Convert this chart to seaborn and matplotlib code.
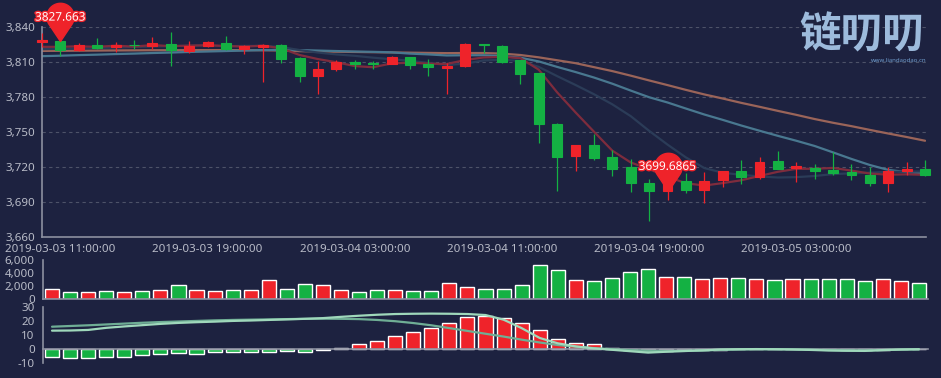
import numpy as np
import pandas as pd
import matplotlib
matplotlib.use('Agg')
import matplotlib.pyplot as plt
import matplotlib.path as mpath
import matplotlib.patheffects as pe
from matplotlib.markers import MarkerStyle
from matplotlib.ticker import FuncFormatter
import seaborn as sns

# hourly candles, 2019-03-03 10:00 .. 2019-03-05 10:00
opens = [3827.5, 3827.66, 3820, 3825, 3822.5, 3825, 3824, 3825.7, 3819.7, 3823.4,
         3826.3, 3821.1, 3822.9, 3824.8, 3813.4, 3797.7, 3804.3, 3810, 3809.1, 3808.6,
         3814, 3808.3, 3804.5, 3806.8, 3825.4, 3823.7, 3811.4, 3800.6, 3757.1, 3729.7,
         3738.5, 3728.2, 3719.6, 3706.6, 3699.69, 3707.6, 3700.6, 3708.6, 3716.9, 3711.4,
         3724.8, 3719.4, 3719.4, 3717.7, 3715.4, 3713.1, 3706.3, 3716.2, 3718.5]
closes = [3828.5, 3820, 3825, 3821.7, 3825, 3824.3, 3826.3, 3820.5, 3824, 3826.8,
          3821.1, 3823.4, 3824.8, 3812.8, 3797.7, 3804, 3809.7, 3808.3, 3808, 3814,
          3807.1, 3805.4, 3806.8, 3825.4, 3824.6, 3810, 3800, 3756.9, 3728.6, 3738.5,
          3727.7, 3718.4, 3706.3, 3699.4, 3706, 3700.5, 3708.3, 3716.9, 3711.4, 3724.5,
          3718.5, 3720.9, 3717, 3715.1, 3712.8, 3706, 3716.2, 3718.5, 3712.8]
highs = [3835, 3828, 3826.5, 3831, 3827, 3828.5, 3831.5, 3835.5, 3828.3, 3827.8,
         3832.5, 3824.5, 3825.5, 3825.2, 3814, 3811, 3812, 3812, 3810.5, 3815,
         3814.5, 3812.6, 3809, 3826, 3825.5, 3825, 3812, 3801, 3758, 3739,
         3748.5, 3735, 3727, 3710, 3712, 3715, 3716, 3717, 3726.3, 3728.6,
         3733.4, 3724.3, 3722.6, 3732.5, 3722.6, 3720, 3719.7, 3724, 3726.3]
lows = [3823, 3815, 3819.5, 3821, 3819, 3821, 3821, 3807, 3817.7, 3823,
        3820.5, 3816.5, 3793, 3809, 3793, 3783, 3802, 3804, 3804.3, 3808,
        3804.3, 3798.3, 3783, 3806, 3817.7, 3809, 3791, 3740.6, 3699.7, 3716.3,
        3726, 3712, 3698.6, 3673.4, 3691.6, 3697.7, 3689, 3702.5, 3705.4, 3709.7,
        3718, 3706.8, 3709.7, 3713.4, 3708.5, 3703.4, 3698.2, 3713.4, 3712.5]

ma5 = [3823, 3823, 3823.5, 3823, 3824.0, 3823.2, 3824.5, 3823.6, 3824.0, 3824.4,
       3823.7, 3823.2, 3824.0, 3821.8, 3816.0, 3812.5, 3809.8, 3806.5, 3805.5, 3808.8,
       3809.4, 3808.6, 3808.3, 3811.7, 3813.9, 3814.4, 3813.4, 3803.4, 3784.0, 3766.8,
       3750.3, 3734.0, 3723.9, 3718.1, 3711.6, 3706.1, 3704.1, 3706.2, 3708.6, 3712.3,
       3715.9, 3718.4, 3718.5, 3719.2, 3716.9, 3714.4, 3713.4, 3713.7, 3713.3]
ma10 = [3821.0, 3821.3, 3821.6, 3822.0, 3822.4, 3822.8, 3823.3, 3823.6, 3824.0, 3824.2,
        3823.5, 3823.8, 3823.8, 3822.9, 3820.2, 3818.1, 3816.5, 3815.3, 3813.7, 3812.4,
        3811.0, 3809.2, 3807.4, 3808.6, 3811.3, 3811.9, 3811.0, 3805.8, 3797.9, 3790.3,
        3782.4, 3773.7, 3763.6, 3751.0, 3739.2, 3728.2, 3719.1, 3715.1, 3713.3, 3711.9,
        3711.0, 3711.3, 3712.3, 3713.9, 3714.6, 3715.1, 3715.9, 3716.1, 3716.2]
ma20 = [3815.0, 3815.4, 3815.9, 3816.3, 3816.8, 3817.2, 3817.7, 3818.1, 3818.6, 3819.0,
        3819.4, 3819.8, 3820.2, 3820.4, 3820.2, 3819.8, 3819.4, 3819.0, 3818.7, 3818.3,
        3817.2, 3816.5, 3815.6, 3815.8, 3815.8, 3815.0, 3813.7, 3810.5, 3805.8, 3801.4,
        3796.7, 3791.4, 3785.5, 3779.8, 3775.3, 3770.1, 3765.0, 3760.4, 3755.6, 3751.1,
        3746.7, 3742.5, 3738.0, 3732.5, 3726.9, 3721.7, 3717.5, 3715.6, 3714.8]
ma30 = [3819.5, 3819.6, 3819.7, 3819.8, 3819.9, 3820.0, 3820.1, 3820.1, 3820.2, 3820.2,
        3820.2, 3820.2, 3820.1, 3819.8, 3819.3, 3819.0, 3818.8, 3818.6, 3818.4, 3818.2,
        3818.0, 3817.8, 3817.6, 3817.7, 3817.7, 3817.2, 3816.0, 3814.0, 3811.5, 3809.0,
        3805.6, 3802.2, 3798.3, 3794.2, 3790.2, 3786.1, 3782.2, 3778.7, 3775.0, 3771.6,
        3768.1, 3764.7, 3761.1, 3757.9, 3755.0, 3751.8, 3748.7, 3745.7, 3742.5]

volumes = [1540, 1130, 1150, 1230, 1030, 1280, 1440, 2200, 1440, 1280,
           1330, 1440, 2870, 1590, 2250, 2100, 1440, 1080, 1380, 1380,
           1180, 1230, 2410, 1900, 1590, 1490, 2100, 5230, 4510, 2870,
           2770, 3280, 4200, 4620, 3440, 3440, 3130, 3280, 3180, 3130,
           2920, 3080, 3080, 3080, 3030, 2770, 3030, 2820, 2510]

macd_hist = [-5.7, -6.4, -6.4, -5.5, -5.5, -4.3, -3.3, -2.6, -3.1, -2.1,
             -1.7, -2.1, -1.7, -1.4, -2.1, -0.4, 1.1, 3.5, 5.9, 9.2,
             12.1, 15.3, 18.6, 22.7, 23.6, 22.4, 18.9, 13.7, 7.3, 4.7,
             4.0, 1.1, -0.4, -0.9, -1.0, -0.8, -0.5, -0.2, 0.3, 0.5,
             0.4, 0.3, 0.1, -0.1, -0.2, -0.4, -0.3, -0.1, 0.1]
dif = [13.2, 13.3, 13.7, 15.2, 16.2, 17.1, 18.0, 18.7, 19.2, 19.6,
       20.1, 20.4, 20.8, 21.2, 21.6, 22.1, 23.0, 23.8, 24.5, 25.0,
       25.2, 25.3, 25.2, 25.0, 24.3, 21.0, 15.0, 8.0, 4.2, 2.0,
       0.6, -0.4, -1.4, -2.4, -1.8, -1.3, -0.8, -0.2, 0.0, 0.1,
       0.0, -0.2, -0.5, -0.9, -1.1, -1.2, -0.6, -0.2, 0.0]
dea = [16.0, 16.5, 17.0, 17.6, 18.2, 18.8, 19.3, 19.7, 20.1, 20.5,
       20.8, 21.0, 21.2, 21.4, 21.6, 21.7, 21.6, 21.4, 20.8, 19.9,
       18.6, 17.0, 15.0, 13.0, 11.0, 9.0, 6.8, 4.8, 3.0, 1.8,
       0.8, 0.0, -0.6, -1.2, -1.3, -1.2, -0.9, -0.5, -0.2, 0.0,
       0.0, -0.1, -0.3, -0.6, -0.8, -0.9, -0.6, -0.3, -0.1]

tick_pos = [1, 9, 17, 25, 33, 41]
tick_labels = ['2019-03-03 11:00:00', '2019-03-03 19:00:00', '2019-03-04 03:00:00',
               '2019-03-04 11:00:00', '2019-03-04 19:00:00', '2019-03-05 03:00:00']
macd_ticks = [-10, 0, 10, 20, 30]
macd_tick_labels = ['-10', '0', '10', '20', '30']

max_mark = (1, 3827.663)
min_mark = (34, 3699.6865)

# colours
BG = '#1d2240'
UP = '#ef232a'
DOWN = '#14b143'
AXIS = '#8c90a0'
TXT = '#b9bcc8'
GRID = '#4d5268'

sns.set_theme(style='dark', rc={'axes.facecolor': BG, 'figure.facecolor': BG})
plt.rcParams['font.family'] = ['Noto Sans', 'DejaVu Sans']

n = len(closes)
idx = list(range(n))
df = pd.DataFrame({'i': idx, 'open': opens, 'close': closes, 'high': highs, 'low': lows,
                   'vol': volumes, 'hist': macd_hist, 'dif': dif, 'dea': dea,
                   'MA5': ma5, 'MA10': ma10, 'MA20': ma20, 'MA30': ma30})
df['dir'] = np.where(df['close'] >= df['open'], 'up', 'down')
df['hdir'] = np.where(df['hist'] >= 0, 'up', 'down')

W, H = 941, 378
fig = plt.figure(figsize=(W / 100, H / 100), dpi=100)
ax = fig.add_axes([42 / W, (H - 237) / H, 884 / W, 210 / H])
axv = fig.add_axes([43 / W, (H - 299) / H, 885 / W, 39 / H])
axm = fig.add_axes([43 / W, (H - 363.3) / H, 885 / W, 56.3 / H])

# ---- main candlestick panel
ax.set_xlim(0, 48.05)
ax.set_ylim(3660, 3840)
for y in [3690, 3720, 3750, 3780, 3810, 3840]:
    ax.axhline(y, color=GRID, lw=0.8, ls=(0, (3, 3)), zorder=0)

ma_cols = {'MA5': '#7e2c3d', 'MA10': '#2b3c58', 'MA20': '#497890', 'MA30': '#9a6459'}
for name in ['MA30', 'MA20', 'MA10', 'MA5']:
    sns.lineplot(data=df, x='i', y=name, ax=ax, color=ma_cols[name], lw=1.6,
                 zorder=2, legend=False)

colors = [UP if d == 'up' else DOWN for d in df['dir']]
ax.vlines(df['i'], df['low'], df['high'], colors=colors, lw=0.9, zorder=3, clip_on=False)
bottoms = np.minimum(df['open'], df['close'])
heights = np.abs(df['close'] - df['open'])
ax.bar(df['i'], heights, bottom=bottoms, width=0.54, color=colors, edgecolor=colors,
       linewidth=0.8, zorder=4, clip_on=False)

# pins
r, d = 1.0, 1.8
a = np.degrees(np.arccos(r / d))
th = np.radians(np.linspace(-90 + a, 270 - a, 60))
verts = [(0, 0)] + [(r * np.cos(t), d + r * np.sin(t)) for t in th] + [(0, 0)]
codes = [mpath.Path.MOVETO] + [mpath.Path.LINETO] * (len(verts) - 2) + [mpath.Path.CLOSEPOLY]
pin = MarkerStyle(mpath.Path(verts, codes))
for (px, py), txt in [(max_mark, '3827.663'), (min_mark, '3699.6865')]:
    ax.plot([px], [py], marker=pin, ms=55, color=UP, mec=UP, ls='none', zorder=6, clip_on=False)
    ax.annotate(txt, (px, py), xytext=(0, 17.5), textcoords='offset points', ha='center',
                va='center', color='white', fontsize=8.5, fontweight='bold', zorder=7,
                path_effects=[pe.withStroke(linewidth=2, foreground=UP)])

ax.set_yticks([3660, 3690, 3720, 3750, 3780, 3810, 3840])
ax.yaxis.set_major_formatter(FuncFormatter(lambda v, p: f'{v:,.0f}'))
ax.set_xticks(tick_pos)
ax.set_xticklabels(tick_labels)
ax.set_xlabel('')
ax.set_ylabel('')
ax.tick_params(axis='both', colors=AXIS, labelcolor=TXT, labelsize=8.3, length=3, width=1)
ax.tick_params(axis='x', pad=2)
ax.tick_params(axis='y', pad=2)
for s in ['top', 'right']:
    ax.spines[s].set_visible(False)
for s in ['left', 'bottom']:
    ax.spines[s].set_color(AXIS)
    ax.spines[s].set_linewidth(1.2)
ax.grid(False)

# ---- volume panel
sns.barplot(data=df, x='i', y='vol', hue='dir', palette={'up': UP, 'down': DOWN},
            dodge=False, width=0.78, ax=axv, legend=False, saturation=1, zorder=2)
axv.set_xlim(-0.5, 48.5)
axv.set_ylim(0, 6000)
axv.set_yticks([0, 2000, 4000, 6000])
axv.yaxis.set_major_formatter(FuncFormatter(lambda v, p: f'{v:,.0f}'))
axv.set_xticks([5.5, 13.5, 21.5, 29.5, 37.5, 45.5])
axv.set_xticklabels([])
axv.set_xlabel('')
axv.set_ylabel('')
axv.tick_params(axis='y', colors=AXIS, labelcolor=TXT, labelsize=8.3, length=0, pad=6)
axv.tick_params(axis='x', colors=AXIS, length=3, width=1)

# ---- MACD panel
sns.barplot(data=df, x='i', y='hist', hue='hdir', palette={'up': UP, 'down': DOWN},
            dodge=False, width=0.78, ax=axm, legend=False, saturation=1, zorder=2)
sns.lineplot(x=idx, y=dea, ax=axm, color='#6fae95', lw=1.6, zorder=3)
sns.lineplot(x=idx, y=dif, ax=axm, color='#9fd8bb', lw=1.6, zorder=4)
axm.set_xlim(-0.5, 48.5)
axm.set_ylim(-10, 30)
axm.set_yticks(macd_ticks)
axm.set_yticklabels(macd_tick_labels)
axm.set_xticks([5.5, 13.5, 21.5, 29.5, 37.5, 45.5])
axm.set_xticklabels([])
axm.set_xlabel('')
axm.set_ylabel('')
axm.spines['bottom'].set_position(('data', 0))
axm.tick_params(axis='y', colors=AXIS, labelcolor=TXT, labelsize=8.3, length=0, pad=6)
axm.tick_params(axis='x', colors=AXIS, length=3, width=1)

for a_ in [axv, axm]:
    a_.grid(False)
    for s in ['top', 'right']:
        a_.spines[s].set_visible(False)
    for s in ['left', 'bottom']:
        a_.spines[s].set_color(AXIS)
        a_.spines[s].set_linewidth(1.2)

# watermark logo
fig.text(862 / W, 1 - 36 / H, '链叨叨', ha='center', va='center', fontsize=30,
         fontweight='bold', color='#9dbbdc', family=['Noto Sans CJK SC', 'DejaVu Sans'])
fig.text(927 / W, 1 - 60 / H, 'www.liandaodao.cn', ha='right', va='center', fontsize=4.3,
         color='#6f9ccc')

fig.savefig('out.png', dpi=100, facecolor=BG)
